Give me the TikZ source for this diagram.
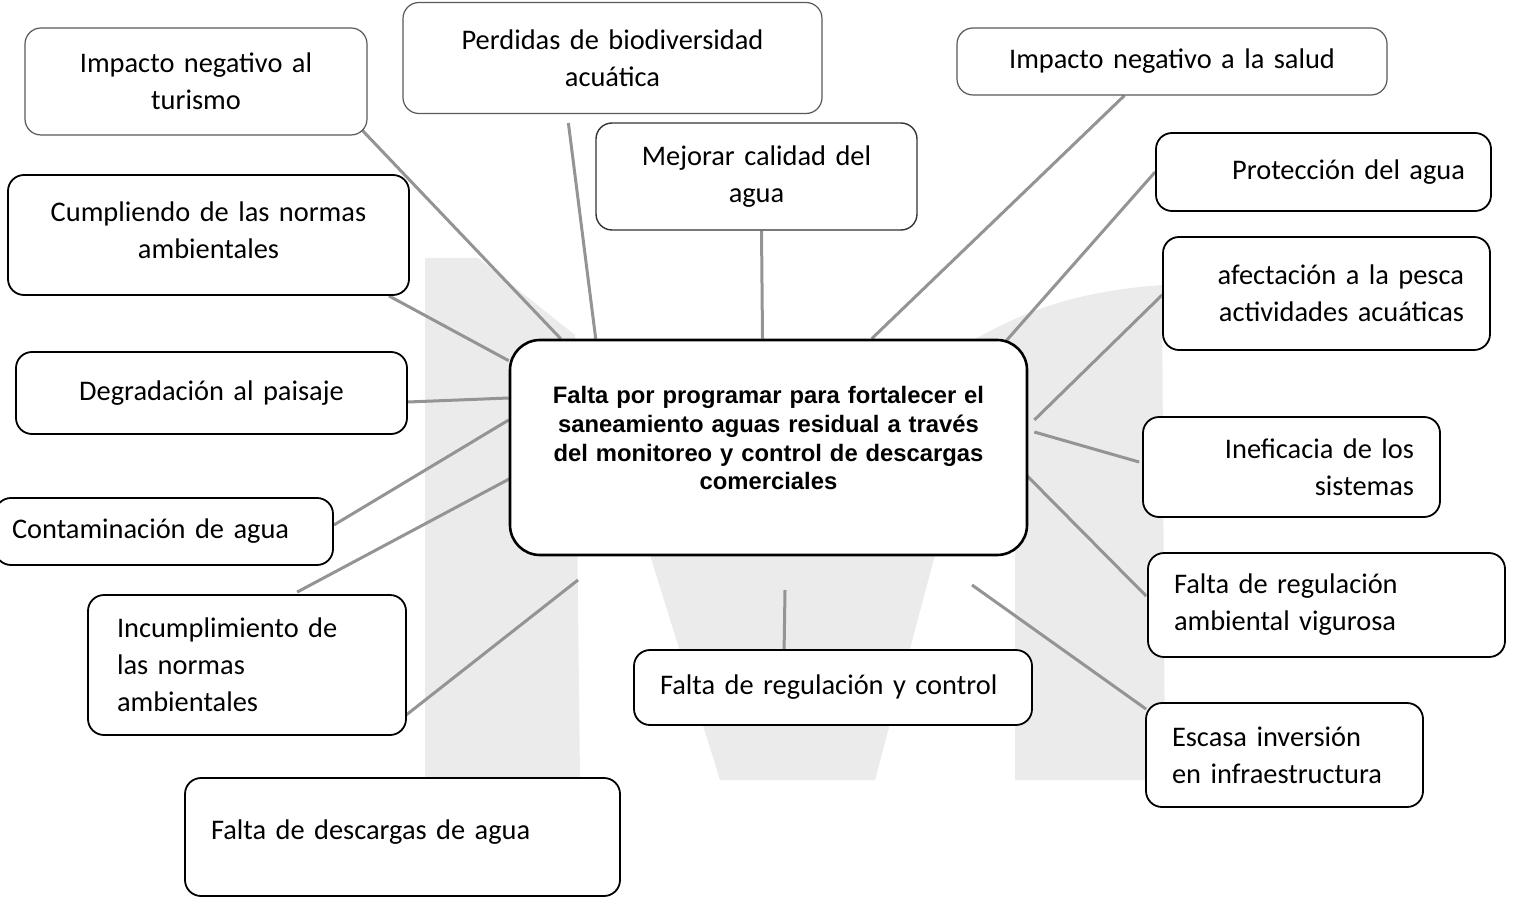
\documentclass[tikz,border=0pt]{standalone}
\usepackage{fontspec}
\setmainfont{Carlito}
\newfontfamily\arialfont{Liberation Sans}
\usetikzlibrary{calc,backgrounds}
\tikzset{
  x=0.5pt, y=-0.5pt,
  box/.style={draw=black, line width=0.9pt, rounded corners=8pt, fill=white,
    inner xsep=13pt, inner ysep=2pt, font=\fontsize{14.2}{18.5}\selectfont},
  lightbox/.style={box, draw=black!65, line width=0.6pt},
  conn/.style={draw=black!42, line width=1.5pt},
  shade/.style={fill=black!8, draw=none}
}
\begin{document}
\begin{tikzpicture}
\useasboundingbox (0,0) rectangle (1513,898);
% boxes
\node[lightbox, minimum width=171pt, minimum height=53.5pt, text width=145pt, align=center] (tur) at (196,81.5) {Impacto negativo al\\turismo};
\node[lightbox, minimum width=209.5pt, minimum height=55.5pt, text width=183.5pt, align=center] (perd) at (612.5,58) {Perdidas de biodiversidad\\acuática};
\node[lightbox, minimum width=215pt, minimum height=33.5pt, text width=189pt, align=center] (salud) at (1172,61.5) {Impacto negativo a la salud};
\node[box, draw=black!80, line width=0.7pt, minimum width=160.5pt, minimum height=53.5pt, text width=134.5pt, align=center] (mejor) at (756.5,176.5) {Mejorar calidad del\\agua};
\node[box, minimum width=200.5pt, minimum height=60pt, text width=174.5pt, align=center] (cumpl) at (208.5,235) {Cumpliendo de las normas\\ambientales\\[-13.5pt]\mbox{}};
\node[box, minimum width=167.5pt, minimum height=39pt, text width=141.5pt, align=right] (prot) at (1323.5,172) {Protección del agua};
\node[box, minimum width=163.5pt, minimum height=56.5pt, text width=137.5pt, align=right] (afect) at (1326.5,293.5) {afectación a la pesca\\actividades acuáticas};
\node[box, minimum width=195.5pt, minimum height=41pt, text width=169.5pt, align=center] (degr) at (211.5,393) {Degradación al paisaje};
\node[box, line width=1.3pt, rounded corners=15pt, minimum width=258.5pt, minimum height=107.5pt, text width=232.5pt, align=center,
  font=\arialfont\bfseries\fontsize{11.9}{14.3}\selectfont] (ctr) at (768.5,447.5)
  {Falta por programar para fortalecer el\\saneamiento aguas residual a través\\del monitoreo y control de descargas\\comerciales\\[-5pt]\mbox{}};
\node[box, inner xsep=8.5pt, minimum width=169pt, minimum height=33.5pt, text width=152pt, align=left] (contam) at (164,531.5) {Contaminación de agua};
\node[box, minimum width=148.5pt, minimum height=50pt, text width=122.5pt, align=right] (inef) at (1291.5,467) {Ineficacia de los\\sistemas};
\node[box, inner xsep=14.5pt, minimum width=159pt, minimum height=70pt, text width=130pt, align=left] (incum) at (247,665) {Incumplimiento de\\las normas\\ambientales};
\node[box, minimum width=178.5pt, minimum height=52pt, text width=152.5pt, align=left] (freg) at (1326.5,605) {Falta de regulación\\ambiental vigurosa};
\node[box, minimum width=199pt, minimum height=37.5pt, text width=173pt, align=left] (fregc) at (833,687.5) {Falta de regulación y control};
\node[box, minimum width=138.5pt, minimum height=52pt, text width=112.5pt, align=left] (esc) at (1284.5,755) {Escasa inversión\\en infraestructura};
\node[box, minimum width=217.5pt, minimum height=59pt, text width=191.5pt, align=left] (fdesc) at (402.5,837) {Falta de descargas de agua\\[-11.5pt]\mbox{}};
% free ends
\coordinate (c1) at (578,580);
\coordinate (c2) at (785,590);
\coordinate (c3) at (972,585);
\begin{pgfonlayer}{background}
  % halftone shading
  \path[shade] (425,258) -- (478,258) -- (575,335) -- (580,780) -- (425,780) -- cycle;
  \path[shade] (650,555) -- (935,555) -- (875,780) -- (720,780) -- cycle;
  \path[shade] (965,345) .. controls (1040,300) and (1100,290) .. (1162,285) -- (1165,780) -- (1015,780) -- (1015,345) -- cycle;
  % connectors
  \draw[conn] ($(tur.south east)+(-6,-6)$) -- ($(ctr.north west)+(52,0)$);
  \draw[conn] ($(perd.south west)+(166,9)$) -- ($(ctr.north west)+(87,0)$);
  \draw[conn] ($(mejor.south)+(5,0)$) -- ($(ctr.north)+(-6,0)$);
  \draw[conn] ($(salud.south west)+(168,0)$) -- ($(ctr.north west)+(363,0)$);
  \draw[conn] (prot.west) -- ($(ctr.north east)+(-22,2)$);
  \draw[conn] ($(afect.west)+(0,1.5)$) -- ($(ctr.east)+(6,-27.5)$);
  \draw[conn] ($(cumpl.south east)+(-21,0)$) -- ($(ctr.north west)+(0,22)$);
  \draw[conn] ($(degr.east)+(0,9)$) -- ($(ctr.west)+(0,-49.5)$);
  \draw[conn] ($(contam.east)+(0,-6.5)$) -- ($(ctr.west)+(0,-27.5)$);
  \draw[conn] ($(incum.north west)+(210,-2)$) -- ($(ctr.west)+(8,27.5)$);
  \draw[conn] ($(incum.east)+(-2,51)$) -- (c1);
  \draw[conn] ($(fregc.north west)+(151,0)$) -- (c2);
  \draw[conn] ($(esc.north west)+(1,7)$) -- (c3);
  \draw[conn] ($(inef.west)+(-3,-5)$) -- ($(ctr.east)+(6,-15.5)$);
  \draw[conn] ($(freg.west)+(-1,-9)$) -- ($(ctr.east)+(-5,24.5)$);
\end{pgfonlayer}
\end{tikzpicture}
\end{document}
